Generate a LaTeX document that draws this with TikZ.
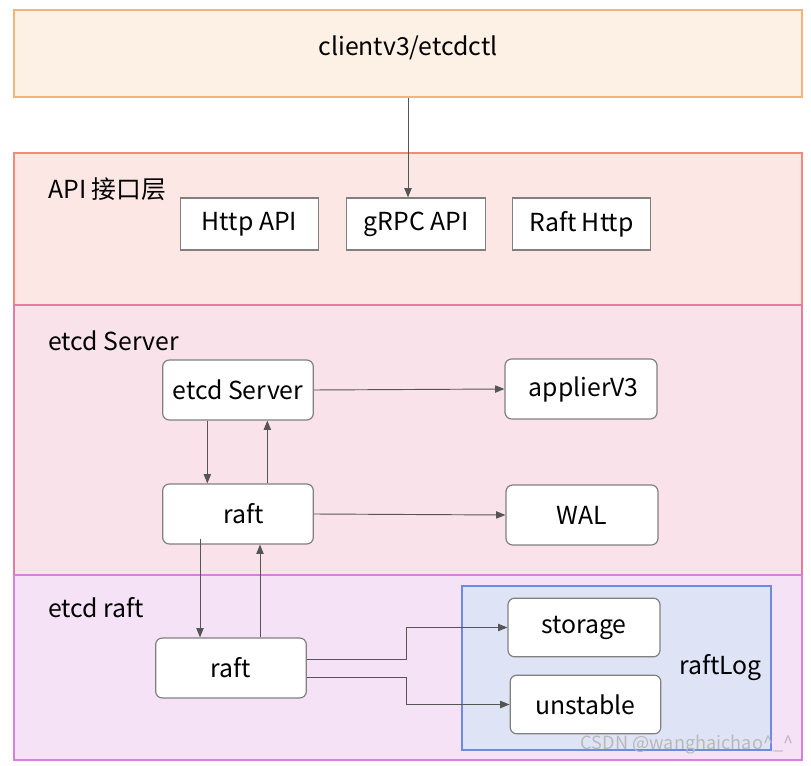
\documentclass[tikz,border=0pt]{standalone}
\usepackage{fontspec}
\setmainfont{Noto Sans CJK SC}
\usepackage[rgb]{xcolor}
\definecolor{clientfill}{RGB}{253,240,228}
\definecolor{clientline}{RGB}{245,178,122}
\definecolor{apifill}{RGB}{252,231,228}
\definecolor{apiline}{RGB}{240,138,124}
\definecolor{serverfill}{RGB}{249,226,234}
\definecolor{serverline}{RGB}{230,124,160}
\definecolor{raftfill}{RGB}{246,226,246}
\definecolor{raftline}{RGB}{216,128,220}
\definecolor{logfill}{RGB}{222,228,246}
\definecolor{logline}{RGB}{108,140,226}
\definecolor{boxline}{RGB}{128,128,128}
\definecolor{arrowline}{RGB}{85,85,85}
\usepackage{tikz}
\usetikzlibrary{arrows.meta}

\begin{document}
\begin{tikzpicture}[x=0.75pt,y=-0.75pt,
  font=\fontsize{18.6}{22}\selectfont,
  layer/.style={draw,line width=0.9pt,minimum width=591pt,inner sep=0pt},
  layerlabel/.style={anchor=west,inner sep=0pt},
  apibox/.style={draw=boxline,fill=white,line width=0.9pt,minimum width=104pt,minimum height=39pt},
  procbox/.style={draw=boxline,fill=white,line width=0.9pt,rounded corners=5pt,minimum width=113pt,minimum height=45pt},
  flow/.style={draw=arrowline,line width=0.7pt,-{Triangle[length=7pt,width=5.5pt]}}
]
\useasboundingbox (0,0) rectangle (811,766);

% the layers
\node[layer,draw=clientline,fill=clientfill,minimum height=65.25pt] (client) at (408,53.5) {};
\node[layer,draw=apiline,fill=apifill,minimum height=114pt] (apilayer) at (408,229) {};
\node[layer,draw=serverline,fill=serverfill,minimum height=202.5pt] (serverlayer) at (408,440) {};
\node[layer,draw=raftline,fill=raftfill,minimum height=138.75pt] (raftlayer) at (408,667.5) {};
\node[draw=logline,fill=logfill,line width=0.9pt,minimum width=231.75pt,minimum height=123pt] (raftlog) at (616.5,668) {};

% the layer labels
\node (clientlabel) at (408,48) {clientv3/etcdctl};
\node[layerlabel] (apilabel) at (48,189) {API 接口层};
\node[layerlabel] (serverlabel) at (48,341) {etcd Server};
\node[layerlabel] (raftlabel) at (48,608) {etcd raft};
\node[layerlabel] (loglabel) at (679,668) {raftLog};

% the API boxes
\foreach \name/\x/\txt in {httpapi/249.5/Http API,grpcapi/416/gRPC API,rafthttp/581.5/Raft Http}
    \node[apibox] (\name) at (\x,224) {\txt};

% the server and raft boxes
\node[procbox] (etcdserver) at (238,390) {etcd Server};
\node[procbox] (raftsrv) at (238,514) {\hspace{8pt}raft};
\node[procbox,minimum width=114pt] (applier) at (581,389) {\hspace{4pt}applierV3};
\node[procbox,minimum width=114pt] (wal) at (582,515) {WAL};
\node[procbox] (raftcore) at (231,668) {raft};
\node[procbox,minimum width=114pt,minimum height=44pt] (storage) at (584,627.5) {storage};
\node[procbox,minimum width=113pt,minimum height=44pt] (unstable) at (585.5,704.5) {unstable};
\coordinate (split) at (406,668);

% the arrows
\draw[flow] (client.south) -- (client.south |- grpcapi.north);
\draw[flow] ([xshift=-23pt]etcdserver.south) -- ([xshift=-23pt]raftsrv.north);
\draw[flow] ([xshift=22pt]raftsrv.north) -- ([xshift=22pt]etcdserver.south);
\draw[flow] (etcdserver.east) -- (applier.west);
\draw[flow] (raftsrv.east) -- (wal.west);
\draw[flow] ([xshift=-28.5pt,yshift=4.5pt]raftsrv.south) -- ([xshift=-23.25pt]raftcore.north);
\draw[flow] ([xshift=21.75pt]raftcore.north) -- ([xshift=16.5pt]raftsrv.south);
\draw[flow] ([yshift=6.75pt]raftcore.east) -| (split |- storage.west) -- (storage.west);
\draw[flow] ([yshift=-6.75pt]raftcore.east) -| (split |- unstable.west) -- (unstable.west);

% the watermark
\node[text=gray!55,font=\fontsize{13.6}{16}\selectfont,anchor=east] (mark) at (798,745) {CSDN @wanghaichao\textasciicircum\_\textasciicircum};

\end{tikzpicture}
\end{document}
